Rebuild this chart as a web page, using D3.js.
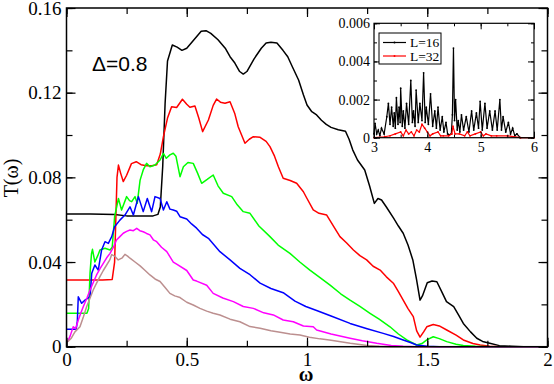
<!DOCTYPE html>
<html>
<head>
<meta charset="utf-8">
<script src="https://cdn.jsdelivr.net/npm/d3@7"></script>
<style>
  body { margin: 0; background: white; }
  svg { display: block; }
</style>
</head>
<body>
<div id="chart"></div>
<script>
// values: [omega, T(omega)]
const black = [[0,0.0627],[0.1,0.0627],[0.2,0.0625],[0.25,0.0618],[0.3,0.0617],[0.36,0.0618],[0.38,0.0625],[0.39,0.066],[0.40,0.085],[0.41,0.115],[0.42,0.135],[0.44,0.1425],[0.46,0.1415],[0.48,0.140],[0.50,0.141],[0.53,0.145],[0.56,0.149],[0.58,0.1493],[0.60,0.148],[0.63,0.145],[0.66,0.141],[0.68,0.137],[0.70,0.134],[0.72,0.130],[0.735,0.1288],[0.75,0.130],[0.78,0.136],[0.81,0.141],[0.83,0.1435],[0.85,0.1438],[0.875,0.1435],[0.90,0.140],[0.92,0.137],[0.94,0.132],[0.965,0.126],[0.985,0.119],[1.0,0.1142],[1.02,0.111],[1.04,0.1095],[1.06,0.107],[1.08,0.105],[1.10,0.1036],[1.13,0.1025],[1.16,0.1018],[1.175,0.098],[1.19,0.093],[1.21,0.0882],[1.24,0.0835],[1.26,0.076],[1.28,0.0677],[1.295,0.070],[1.31,0.0693],[1.33,0.066],[1.36,0.0607],[1.38,0.057],[1.40,0.0536],[1.42,0.048],[1.44,0.041],[1.455,0.032],[1.47,0.022],[1.48,0.024],[1.50,0.0302],[1.52,0.031],[1.54,0.0307],[1.56,0.026],[1.58,0.0213],[1.61,0.0189],[1.63,0.015],[1.65,0.011],[1.68,0.007],[1.706,0.004],[1.73,0.0025],[1.76,0.0016],[1.80,0.0005],[1.85,0.0002],[1.9,0],[2,0]];

const red = [[0,0.0315],[0.15,0.0315],[0.19,0.0318],[0.20,0.040],[0.205,0.06],[0.21,0.08],[0.216,0.0858],[0.225,0.082],[0.236,0.078],[0.25,0.081],[0.27,0.0865],[0.29,0.0874],[0.31,0.086],[0.333,0.0855],[0.355,0.0855],[0.375,0.086],[0.39,0.091],[0.403,0.0992],[0.42,0.108],[0.437,0.1134],[0.458,0.113],[0.482,0.1169],[0.50,0.1145],[0.513,0.1131],[0.534,0.1137],[0.55,0.108],[0.566,0.1016],[0.59,0.1071],[0.61,0.114],[0.624,0.117],[0.64,0.1155],[0.659,0.115],[0.68,0.1157],[0.70,0.110],[0.714,0.1039],[0.742,0.0961],[0.76,0.098],[0.777,0.0992],[0.805,0.0989],[0.83,0.097],[0.846,0.0945],[0.865,0.090],[0.881,0.085],[0.901,0.0796],[0.93,0.0785],[0.957,0.0772],[0.985,0.0732],[1.0,0.070],[1.026,0.0646],[1.05,0.063],[1.082,0.0622],[1.11,0.057],[1.137,0.052],[1.165,0.049],[1.193,0.0457],[1.22,0.043],[1.248,0.041],[1.275,0.038],[1.304,0.0362],[1.33,0.033],[1.359,0.030],[1.38,0.026],[1.40,0.022],[1.42,0.018],[1.442,0.0142],[1.456,0.0075],[1.470,0.0045],[1.485,0.007],[1.498,0.0094],[1.525,0.0105],[1.55,0.0098],[1.581,0.0079],[1.62,0.0055],[1.65,0.0032],[1.69,0.0015],[1.72,0.0008],[1.76,0.0002],[1.8,0],[2,0]];

const green = [[0,0.0158],[0.085,0.0158],[0.092,0.018],[0.098,0.035],[0.104,0.044],[0.108,0.046],[0.118,0.040],[0.13,0.043],[0.139,0.0457],[0.16,0.0465],[0.181,0.0457],[0.19,0.047],[0.20,0.0614],[0.216,0.070],[0.229,0.0646],[0.25,0.0709],[0.262,0.069],[0.271,0.0685],[0.285,0.0709],[0.294,0.0677],[0.306,0.0787],[0.319,0.0835],[0.333,0.0866],[0.347,0.085],[0.368,0.0858],[0.389,0.0882],[0.403,0.0913],[0.415,0.089],[0.43,0.0906],[0.444,0.0914],[0.455,0.090],[0.472,0.0803],[0.486,0.085],[0.505,0.087],[0.527,0.0866],[0.545,0.082],[0.562,0.0772],[0.585,0.079],[0.610,0.0811],[0.63,0.076],[0.652,0.0725],[0.687,0.0709],[0.71,0.067],[0.735,0.0638],[0.763,0.063],[0.80,0.057],[0.846,0.052],[0.88,0.048],[0.929,0.0441],[0.97,0.040],[1.012,0.0362],[1.05,0.033],[1.096,0.0291],[1.14,0.025],[1.179,0.022],[1.22,0.019],[1.262,0.0158],[1.30,0.013],[1.345,0.0094],[1.38,0.006],[1.415,0.0032],[1.456,0.0008],[1.478,0.0015],[1.498,0.0032],[1.525,0.0047],[1.55,0.0038],[1.581,0.0024],[1.62,0.0012],[1.65,0.0006],[1.7,0.0002],[1.75,0],[2,0]];

const blue = [[0,0.0082],[0.04,0.0082],[0.045,0.012],[0.049,0.0236],[0.063,0.0205],[0.077,0.022],[0.098,0.0236],[0.105,0.0347],[0.118,0.0386],[0.132,0.0362],[0.146,0.0457],[0.16,0.0496],[0.174,0.0488],[0.188,0.052],[0.20,0.0567],[0.222,0.0598],[0.243,0.0622],[0.264,0.0661],[0.278,0.0622],[0.299,0.0709],[0.319,0.0638],[0.336,0.070],[0.354,0.0638],[0.368,0.0709],[0.389,0.070],[0.403,0.0646],[0.417,0.0685],[0.43,0.065],[0.444,0.0646],[0.458,0.064],[0.472,0.0614],[0.5,0.0603],[0.52,0.058],[0.541,0.056],[0.565,0.053],[0.59,0.0512],[0.638,0.0449],[0.68,0.041],[0.721,0.037],[0.763,0.034],[0.805,0.030],[0.85,0.0275],[0.901,0.0255],[0.95,0.0215],[0.995,0.019],[1.04,0.0171],[1.10,0.0145],[1.179,0.011],[1.25,0.0085],[1.317,0.0063],[1.36,0.0048],[1.40,0.0032],[1.43,0.002],[1.456,0.0008],[1.5,0.0002],[1.55,0],[2,0]];

const magenta = [[0.005,0.0024],[0.015,0.005],[0.028,0.0094],[0.038,0.0085],[0.049,0.0126],[0.06,0.016],[0.07,0.019],[0.085,0.023],[0.098,0.0268],[0.11,0.030],[0.125,0.0339],[0.14,0.037],[0.153,0.0394],[0.167,0.042],[0.181,0.0441],[0.195,0.047],[0.208,0.0504],[0.222,0.052],[0.236,0.0536],[0.25,0.0545],[0.264,0.0551],[0.278,0.0548],[0.292,0.0559],[0.305,0.0548],[0.319,0.0543],[0.333,0.0535],[0.347,0.0528],[0.361,0.0505],[0.375,0.0496],[0.395,0.047],[0.417,0.0449],[0.444,0.040],[0.458,0.039],[0.5,0.036],[0.527,0.0315],[0.541,0.031],[0.583,0.029],[0.61,0.0252],[0.65,0.023],[0.694,0.0213],[0.735,0.019],[0.777,0.0181],[0.82,0.016],[0.86,0.015],[0.901,0.0126],[0.943,0.0118],[0.985,0.0098],[1.026,0.0094],[1.04,0.0079],[1.1,0.006],[1.179,0.004],[1.23,0.0028],[1.29,0.0016],[1.35,0.0006],[1.40,0.0002],[1.45,0],[2,0]];

const brown = [[0.005,0.0024],[0.02,0.004],[0.035,0.007],[0.056,0.0094],[0.07,0.014],[0.084,0.019],[0.098,0.023],[0.111,0.0268],[0.125,0.030],[0.139,0.0331],[0.153,0.036],[0.167,0.0386],[0.18,0.041],[0.188,0.0435],[0.2,0.0428],[0.215,0.041],[0.232,0.042],[0.243,0.0436],[0.254,0.0428],[0.264,0.0418],[0.285,0.040],[0.306,0.0382],[0.327,0.036],[0.347,0.0339],[0.368,0.032],[0.389,0.0308],[0.41,0.028],[0.43,0.0252],[0.45,0.024],[0.472,0.0232],[0.5,0.021],[0.527,0.0197],[0.555,0.0181],[0.583,0.0168],[0.61,0.0158],[0.638,0.015],[0.68,0.013],[0.721,0.0118],[0.763,0.0095],[0.805,0.0087],[0.85,0.0075],[0.888,0.0068],[0.93,0.006],[0.971,0.0055],[1.01,0.0045],[1.054,0.0037],[1.1,0.003],[1.18,0.0016],[1.25,0.0006],[1.3,0.0002],[1.35,0],[2,0]];

// inset: [omega, T] for the two sizes
const insetL16 = [[3.0,0.0002],[3.02,0.00075],[3.05,0.0002],[3.08,0.0004],[3.11,0.0001],[3.14,0.0005],[3.19,0.0002],[3.24,0.0011],[3.27,0.0018],[3.30,0.0007],[3.33,0.0016],[3.36,0.0006],[3.38,0.0013],[3.40,0.0005],[3.42,0.0021],[3.45,0.0007],[3.47,0.0016],[3.49,0.0008],[3.50,0.0026],[3.53,0.0006],[3.55,0.0014],[3.58,0.0005],[3.61,0.0018],[3.65,0.0007],[3.69,0.003],[3.72,0.0008],[3.74,0.0014],[3.77,0.0006],[3.79,0.0025],[3.83,0.0008],[3.86,0.0018],[3.90,0.0009],[3.93,0.0034],[3.96,0.0008],[3.98,0.0016],[4.02,0.0007],[4.06,0.0023],[4.10,0.0006],[4.14,0.0014],[4.17,0.0005],[4.20,0.0016],[4.24,0.0004],[4.28,0.0011],[4.31,0.0003],[4.35,0.0008],[4.38,0.0002],[4.41,0.00015],[4.45,0.0002],[4.47,0.0012],[4.49,0.0047],[4.51,0.0009],[4.53,0.002],[4.56,0.0004],[4.58,0.0009],[4.61,0.0003],[4.64,0.0012],[4.68,0.0004],[4.73,0.0011],[4.78,0.0003],[4.83,0.0014],[4.87,0.0004],[4.92,0.0013],[4.96,0.0005],[4.99,0.0019],[5.03,0.0004],[5.08,0.0018],[5.12,0.0005],[5.17,0.0014],[5.22,0.0004],[5.27,0.0014],[5.31,0.0004],[5.36,0.002],[5.39,0.0004],[5.42,0.0011],[5.47,0.0003],[5.52,0.0008],[5.56,0.0002],[5.60,0.0005],[5.64,0.0001],[5.68,0.0002],[5.74,0],[6.0,0]];

const insetL32 = [[3.0,0],[3.2,0.00005],[3.3,0.0001],[3.4,0.0002],[3.5,0.0003],[3.55,0.0001],[3.6,0.0004],[3.65,0.0002],[3.7,0.0003],[3.75,0.0001],[3.8,0.0004],[3.85,0.0003],[3.9,0.0007],[3.95,0.0005],[4.0,0.0003],[4.05,0.0001],[4.1,0.0002],[4.2,0.0003],[4.25,0.0001],[4.3,0.0001],[4.4,0.0001],[4.46,0.0002],[4.48,0.0006],[4.52,0.0002],[4.6,0.0002],[4.7,0.0001],[4.75,0.0003],[4.8,0.0001],[4.9,0.0002],[5.0,0.0003],[5.05,0.0001],[5.1,0.0002],[5.2,0.0001],[5.3,0.0001],[5.5,0.0001],[5.75,0],[6.0,0]];

const series = [
  { data: black, color: "#000000" },
  { data: red, color: "#ff0000" },
  { data: green, color: "#00ff00" },
  { data: blue, color: "#0000ff" },
  { data: magenta, color: "#ff00ff" },
  { data: brown, color: "#bc8f8f" }
];

const xTicks = [0, 0.5, 1, 1.5, 2];
const yTicks = [0, 0.04, 0.08, 0.12, 0.16];
const insetXTicks = [3, 4, 5, 6];
const insetYTicks = [0, 0.002, 0.004, 0.006];
const legendLabels = ["L=16", "L=32"];

const width = 554, height = 384;
const serif = "'Liberation Serif', 'Times New Roman', serif";

const svg = d3.select("#chart").append("svg")
  .attr("width", width)
  .attr("height", height)
  .style("background", "white");

// main scales
const x = d3.scaleLinear().domain([0, 2]).range([66.5, 547.5]);
const y = d3.scaleLinear().domain([0, 0.16]).range([346.7, 8]);

const line = d3.line()
  .x(d => x(d[0]))
  .y(d => y(d[1]));

series.forEach(s => {
  svg.append("path")
    .datum(s.data)
    .attr("d", line)
    .attr("fill", "none")
    .attr("stroke", s.color)
    .attr("stroke-width", 1.5)
    .attr("stroke-linejoin", "round");
});

// axes, ticks pointing inside
function styleAxis(g) {
  g.attr("font-family", serif);
  g.select(".domain").remove();
  g.selectAll(".tick line").attr("stroke", "black").attr("stroke-width", 1.2);
  g.selectAll(".tick text").style("font-family", serif).attr("fill", "black");
}

const minorX = d3.range(0, 2.001, 0.25);
const minorY = d3.range(0, 0.1601, 0.02);

svg.append("g")
  .attr("transform", `translate(0,${y(0)})`)
  .call(d3.axisBottom(x).tickValues(minorX).tickSize(-6).tickFormat(""))
  .call(styleAxis);
svg.append("g")
  .attr("transform", `translate(0,${y(0)})`)
  .call(d3.axisBottom(x).tickValues(xTicks).tickSize(-9).tickPadding(6).tickFormat(d3.format("")))
  .call(styleAxis)
  .selectAll("text").style("font-size", "19px");
svg.append("g")
  .attr("transform", `translate(0,${y(0.16)})`)
  .call(d3.axisTop(x).tickValues(minorX).tickSize(-6).tickFormat(""))
  .call(styleAxis);
svg.append("g")
  .attr("transform", `translate(0,${y(0.16)})`)
  .call(d3.axisTop(x).tickValues(xTicks).tickSize(-9).tickFormat(""))
  .call(styleAxis);

svg.append("g")
  .attr("transform", `translate(${x(0)},0)`)
  .call(d3.axisLeft(y).tickValues(minorY).tickSize(-6).tickFormat(""))
  .call(styleAxis);
svg.append("g")
  .attr("transform", `translate(${x(0)},0)`)
  .call(d3.axisLeft(y).tickValues(yTicks).tickSize(-9).tickPadding(5).tickFormat(d => d === 0 ? "0" : d3.format(".2f")(d)))
  .call(styleAxis)
  .selectAll("text").style("font-size", "19px");
svg.append("g")
  .attr("transform", `translate(${x(2)},0)`)
  .call(d3.axisRight(y).tickValues(minorY).tickSize(-6).tickFormat(""))
  .call(styleAxis);
svg.append("g")
  .attr("transform", `translate(${x(2)},0)`)
  .call(d3.axisRight(y).tickValues(yTicks).tickSize(-9).tickFormat(""))
  .call(styleAxis);

svg.append("rect")
  .attr("x", x(0)).attr("y", y(0.16))
  .attr("width", x(2) - x(0)).attr("height", y(0) - y(0.16))
  .attr("fill", "none").attr("stroke", "black").attr("stroke-width", 1.5);

// axis labels
svg.append("text")
  .attr("x", 306).attr("y", 381)
  .attr("text-anchor", "middle")
  .style("font-family", serif).style("font-size", "20px").style("font-weight", "bold")
  .text("ω");

svg.append("text")
  .attr("transform", "translate(18,178) rotate(-90)")
  .attr("text-anchor", "middle")
  .style("font-family", serif).style("font-size", "20px")
  .text("T(ω)");

svg.append("text")
  .attr("x", 92).attr("y", 71)
  .style("font-family", "'Liberation Sans', Arial, sans-serif").style("font-size", "21px")
  .text("Δ=0.8");

// inset
const ix = d3.scaleLinear().domain([3, 6]).range([374, 534]);
const iy = d3.scaleLinear().domain([0, 0.006]).range([137.7, 23.3]);

svg.append("rect")
  .attr("x", ix(3)).attr("y", iy(0.006))
  .attr("width", ix(6) - ix(3)).attr("height", iy(0) - iy(0.006))
  .attr("fill", "white");

const iline = d3.line()
  .x(d => ix(d[0]))
  .y(d => iy(d[1]));

const insetSeries = [
  { data: insetL16, color: "#000000" },
  { data: insetL32, color: "#ff0000" }
];

insetSeries.forEach(s => {
  svg.append("path")
    .datum(s.data)
    .attr("d", iline)
    .attr("fill", "none")
    .attr("stroke", s.color)
    .attr("stroke-width", 1.2);
  svg.append("g").selectAll("circle")
    .data(s.data)
    .enter().append("circle")
    .attr("cx", d => ix(d[0]))
    .attr("cy", d => iy(d[1]))
    .attr("r", 0.9)
    .attr("fill", s.color);
});

const iMinorX = d3.range(3, 6.001, 0.5);
const iMinorY = d3.range(0, 0.00601, 0.001);

function insetAxis(axis, tx, ty, vals, size, fmt, pad) {
  const g = svg.append("g")
    .attr("transform", `translate(${tx},${ty})`)
    .call(axis.tickValues(vals).tickSize(size).tickPadding(pad || 3).tickFormat(fmt || ""))
    .call(styleAxis);
  g.selectAll(".tick line").attr("stroke-width", 1);
  g.selectAll("text").style("font-size", "14px");
}

insetAxis(d3.axisBottom(ix), 0, iy(0), iMinorX, -3);
insetAxis(d3.axisBottom(ix), 0, iy(0), insetXTicks, -6, d3.format("d"), 4);
insetAxis(d3.axisTop(ix), 0, iy(0.006), iMinorX, -3);
insetAxis(d3.axisTop(ix), 0, iy(0.006), insetXTicks, -6);
insetAxis(d3.axisLeft(iy), ix(3), 0, iMinorY, -3);
insetAxis(d3.axisLeft(iy), ix(3), 0, insetYTicks, -6, d => d === 0 ? "0" : d3.format(".3f")(d), 4);
insetAxis(d3.axisRight(iy), ix(6), 0, iMinorY, -3);
insetAxis(d3.axisRight(iy), ix(6), 0, insetYTicks, -6);

svg.append("rect")
  .attr("x", ix(3)).attr("y", iy(0.006))
  .attr("width", ix(6) - ix(3)).attr("height", iy(0) - iy(0.006))
  .attr("fill", "none").attr("stroke", "black").attr("stroke-width", 1.2);

// inset legend
const legend = svg.append("g").attr("transform", "translate(379,33)");
legend.append("rect")
  .attr("width", 62).attr("height", 31)
  .attr("fill", "white").attr("stroke", "black").attr("stroke-width", 1);

insetSeries.forEach((s, i) => {
  const ly = 9.5 + i * 13.5;
  legend.append("line")
    .attr("x1", 4).attr("x2", 27)
    .attr("y1", ly).attr("y2", ly)
    .attr("stroke", s.color).attr("stroke-width", 1.2);
  legend.append("circle")
    .attr("cx", 15.5).attr("cy", ly).attr("r", 1)
    .attr("fill", s.color);
  legend.append("text")
    .attr("x", 31).attr("y", ly + 4.5)
    .style("font-family", serif).style("font-size", "13.5px")
    .text(legendLabels[i]);
});
</script>
</body>
</html>
